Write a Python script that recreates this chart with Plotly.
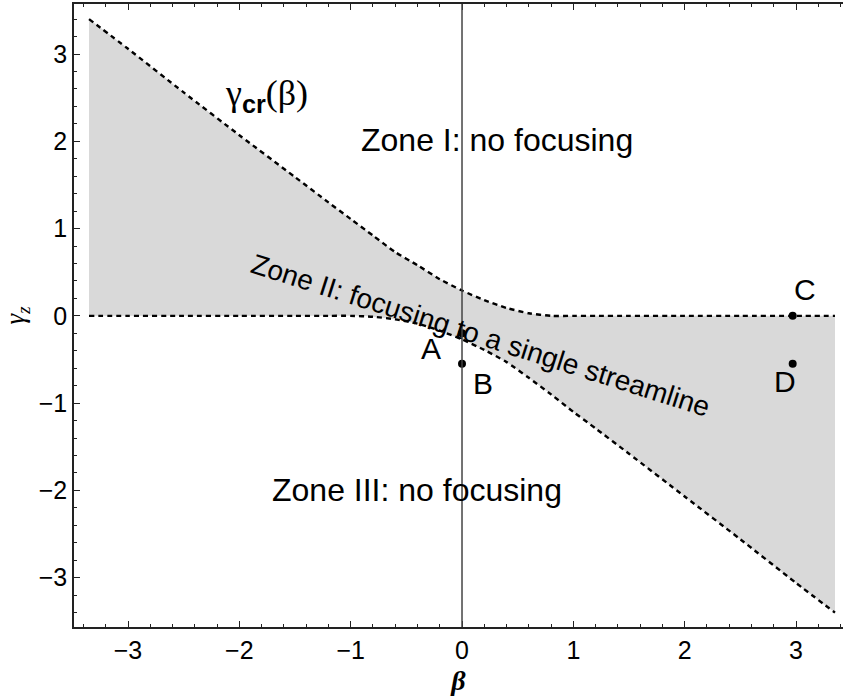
import plotly.graph_objects as go

# Critical shear boundaries gamma_cr(beta) bounding the focusing zone
beta = [-3.35, -3.0, -2.5, -2.0, -1.5, -1.2, -1.0, -0.8, -0.6, -0.4, -0.2, 0.0,
        0.2, 0.4, 0.6, 0.8, 1.0, 1.2, 1.5, 2.0, 2.5, 3.0, 3.35]
gamma_upper = [3.40, 3.06, 2.56, 2.07, 1.59, 1.30, 1.11, 0.92, 0.73, 0.58, 0.42, 0.29,
               0.18, 0.09, 0.03, 0.0, 0.0, 0.0, 0.0, 0.0, 0.0, 0.0, 0.0]
gamma_lower = [0.0, 0.0, 0.0, 0.0, 0.0, 0.0, 0.0, -0.01, -0.04, -0.09, -0.17, -0.27,
               -0.39, -0.53, -0.71, -0.90, -1.10, -1.29, -1.58, -2.07, -2.56, -3.06, -3.40]

# Marked parameter points
pt_names = ["A", "B", "C", "D"]
pt_beta = [0.0, 0.0, 2.97, 2.97]
pt_gamma = [-0.2, -0.55, 0.0, -0.55]
lbl_beta = [-0.28, 0.19, 3.08, 2.90]
lbl_gamma = [-0.37, -0.77, 0.30, -0.75]

# Axis ticks
x_ticks = [-3, -2, -1, 0, 1, 2, 3]
y_ticks = [-3, -2, -1, 0, 1, 2, 3]

sans = "Liberation Sans, Arial, sans-serif"
serif = "Liberation Serif, Times New Roman, serif"
dash = "5px,4px"
curve_line = dict(color="black", width=2.4, dash=dash, shape="spline", smoothing=0.6)

fig = go.Figure()
fig.add_trace(go.Scatter(x=beta, y=gamma_lower, mode="lines", line=curve_line,
                         hoverinfo="skip", showlegend=False))
fig.add_trace(go.Scatter(x=beta, y=gamma_upper, mode="lines", fill="tonexty",
                         fillcolor="#d9d9d9", line=curve_line,
                         hoverinfo="skip", showlegend=False))

# vertical axis line at beta = 0
fig.add_shape(type="line", xref="x", yref="paper", x0=0, x1=0, y0=0, y1=1,
              line=dict(color="#444444", width=1.5), layer="above")

fig.add_trace(go.Scatter(x=pt_beta, y=pt_gamma, mode="markers",
                         marker=dict(color="black", size=8),
                         hoverinfo="skip", showlegend=False))

for n, bx, gy in zip(pt_names, lbl_beta, lbl_gamma):
    fig.add_annotation(x=bx, y=gy, text=n, showarrow=False,
                       font=dict(family=sans, size=30, color="black"))

fig.add_annotation(x=0.314, y=2.015, text="Zone I: no focusing", showarrow=False,
                   font=dict(family=sans, size=32, color="black"))
fig.add_annotation(x=-0.40, y=-1.995, text="Zone III: no focusing", showarrow=False,
                   font=dict(family=sans, size=32, color="black"))
fig.add_annotation(x=0.17, y=-0.22, text="Zone II: focusing to a single streamline",
                   textangle=17.6, showarrow=False,
                   font=dict(family=sans, size=28, color="black"))
fig.add_annotation(x=-1.76, y=2.52,
                   text="γ<sub><b><span style='font-family:Liberation Sans'>cr</span></b></sub>(β)",
                   showarrow=False, font=dict(family=serif, size=36, color="black"))

axis_common = dict(showline=True, linecolor="#222222", linewidth=1.5,
                   ticks="inside", ticklen=6, tickwidth=1.2, tickcolor="#222222",
                   showgrid=False, zeroline=False,
                   tickfont=dict(family=sans, size=25, color="black"))

fig.update_xaxes(range=[-3.485, 3.422], tickvals=x_ticks, mirror="ticks",
                 minor=dict(dtick=0.2, ticks="inside", ticklen=3.5, tickcolor="#222222", tickwidth=1),
                 title=dict(text="<b><i>β</i></b>", font=dict(family=serif, size=28, color="black"),
                            standoff=10),
                 **axis_common)
fig.update_yaxes(range=[-3.565, 3.573], tickvals=y_ticks,
                 minor=dict(dtick=0.2, ticks="inside", ticklen=3.5, tickcolor="#222222", tickwidth=1),
                 title=dict(text="<i>γ<sub>z</sub></i>", font=dict(family=serif, size=27, color="black"),
                            standoff=8),
                 **axis_common)

fig.update_layout(width=843, height=696, margin=dict(l=74, r=0, t=4, b=69),
                  plot_bgcolor="white", paper_bgcolor="white")

fig.write_html("out.html")
